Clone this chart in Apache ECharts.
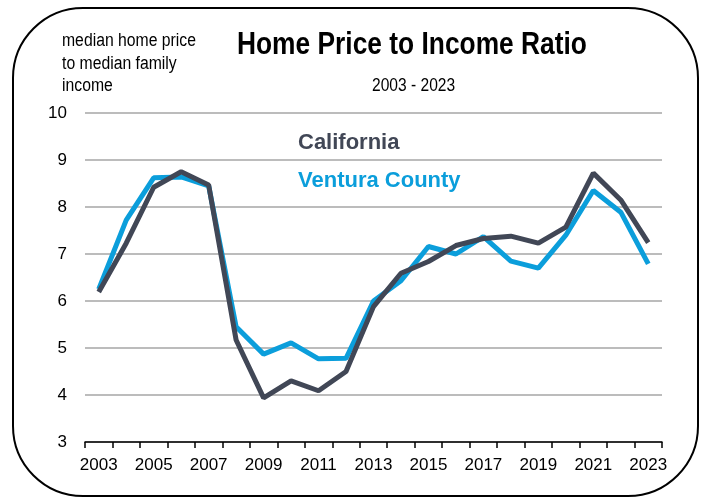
<!DOCTYPE html>
<html>
<head>
<meta charset="utf-8">
<script src="https://cdn.jsdelivr.net/npm/echarts@6/dist/echarts.min.js"></script>
<style>
  html, body { margin: 0; padding: 0; background: #fff; }
  #chart { width: 708px; height: 501px; }
</style>
</head>
<body>
<div id="chart"></div>
<script>
// data
var years = ['2003', '2004', '2005', '2006', '2007', '2008', '2009', '2010', '2011', '2012',
  '2013', '2014', '2015', '2016', '2017', '2018', '2019', '2020', '2021', '2022', '2023']
var california = [6.19, 7.23, 8.42, 8.75, 8.47, 5.17, 3.94, 4.30, 4.09, 4.50,
  5.88, 6.59, 6.84, 7.18, 7.33, 7.38, 7.23, 7.57, 8.72, 8.15, 7.24]
var ventura = [6.25, 7.72, 8.62, 8.64, 8.45, 5.45, 4.87, 5.11, 4.77, 4.78,
  6.00, 6.43, 7.16, 7.00, 7.37, 6.85, 6.70, 7.40, 8.35, 7.89, 6.79]

// no narrow font installed, so texts are squeezed with scaleX
var sans = "'Liberation Sans', Arial, sans-serif"
var darkColor = '#414756'
var blueColor = '#0b9edb'

var chart = echarts.init(document.getElementById('chart'))

var option = {
  animation: false,
  grid: { left: 85, right: 46, top: 113, bottom: 59 },
  xAxis: {
    type: 'category',
    data: years,
    boundaryGap: true,
    axisLine: { lineStyle: { color: '#000', width: 1.5 } },
    axisTick: { show: true, interval: 0, length: 6, lineStyle: { color: '#000', width: 1.5 } },
    axisLabel: {
      interval: 1,
      color: '#000',
      fontFamily: sans,
      fontSize: 17,
      margin: 15
    },
    splitLine: { show: false }
  },
  yAxis: {
    type: 'value',
    min: 3,
    max: 10,
    interval: 1,
    axisLine: { show: false },
    axisTick: { show: false },
    axisLabel: {
      color: '#000',
      fontFamily: sans,
      fontSize: 17,
      margin: 18
    },
    splitLine: { lineStyle: { color: '#a6a6a6', width: 1.5 } }
  },
  series: [
    {
      name: 'Ventura County',
      type: 'line',
      data: ventura,
      showSymbol: false,
      lineStyle: { color: blueColor, width: 5 },
      itemStyle: { color: blueColor }
    },
    {
      name: 'California',
      type: 'line',
      data: california,
      showSymbol: false,
      lineStyle: { color: darkColor, width: 5 },
      itemStyle: { color: darkColor }
    }
  ],
  graphic: [
    {
      type: 'rect',
      shape: { x: 13, y: 8, width: 685, height: 488, r: 70 },
      style: { fill: 'none', stroke: '#000', lineWidth: 2 },
      z: -1
    },
    {
      type: 'text',
      x: 62,
      y: 30,
      scaleX: 0.875,
      style: {
        text: 'median home price\nto median family\nincome',
        font: '18px ' + sans,
        fill: '#000',
        lineHeight: 22.5,
        verticalAlign: 'top'
      }
    },
    {
      type: 'text',
      x: 237,
      y: 30,
      scaleX: 0.85,
      style: {
        text: 'Home Price to Income Ratio',
        font: 'bold 31px ' + sans,
        fill: '#000',
        verticalAlign: 'top'
      }
    },
    {
      type: 'text',
      x: 372,
      y: 77,
      scaleX: 0.865,
      style: {
        text: '2003 - 2023',
        font: '18px ' + sans,
        fill: '#000',
        verticalAlign: 'top'
      }
    },
    {
      type: 'text',
      x: 298,
      y: 132,
      style: {
        text: 'California',
        font: 'bold 22px ' + sans,
        fill: darkColor,
        verticalAlign: 'top'
      }
    },
    {
      type: 'text',
      x: 298,
      y: 170,
      style: {
        text: 'Ventura County',
        font: 'bold 22px ' + sans,
        fill: blueColor,
        verticalAlign: 'top'
      }
    }
  ]
}

chart.setOption(option)
</script>
</body>
</html>
